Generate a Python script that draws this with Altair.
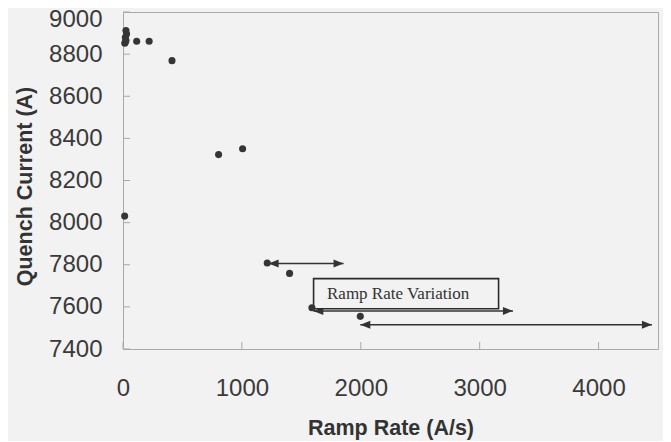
import altair as alt
import pandas as pd

# ---- data ----
ramp_rate = [25, 30, 20, 25, 15, 20, 115, 220, 412, 804, 1006, 14, 1213, 1401, 1589, 1996]
quench_current = [8912, 8895, 8880, 8865, 8852, 8858, 8861, 8861, 8769, 8323, 8351, 8031,
                  7808, 7759, 7596, 7555]

x_ticks = [0, 1000, 2000, 3000, 4000]
y_ticks = [7400, 7600, 7800, 8000, 8200, 8400, 8600, 8800, 9000]

arrow_start = [1225, 1601, 1996]
arrow_end = [1855, 3280, 4449]
arrow_level = [7806, 7581, 7515]

box_left = [1603]
box_right = [3159]
box_bottom = [7591]
box_top = [7734]
note_text = ["Ramp Rate Variation"]
note_x = [1716]
note_y = [7638]

BG = "#f2f2f2"
INK = "#333333"
FRAME = "#a9a9a9"
SANS = "Liberation Sans"

pts = pd.DataFrame({"ramp": ramp_rate, "q": quench_current})
xt = pd.DataFrame({"v": x_ticks})
yt = pd.DataFrame({"v": y_ticks})
arrows = pd.DataFrame({"x1": arrow_start, "x2": arrow_end, "y": arrow_level})
box = pd.DataFrame({"x1": box_left, "x2": box_right, "y1": box_bottom, "y2": box_top})
note = pd.DataFrame({"t": note_text, "x": note_x, "y": note_y})

xscale = alt.Scale(domain=[0, 4500], nice=False, zero=False)
yscale = alt.Scale(domain=[7400, 9000], nice=False, zero=False)

x_axis = alt.Axis(
    values=x_ticks, format="d", title="Ramp Rate (A/s)",
    ticks=False, domain=False, grid=False, labelFlush=False,
    labelFont=SANS, labelFontSize=24, labelColor="#3a3a3a", labelPadding=27,
    titleFont=SANS, titleFontSize=21.5, titleFontWeight="bold", titleColor=INK,
    titleY=79, titleBaseline="middle", titleAlign="center",
)
y_axis = alt.Axis(
    values=y_ticks, format="d", title="Quench Current (A)",
    ticks=False, domain=False, grid=False, labelFlush=False,
    labelFont=SANS, labelFontSize=24, labelColor="#3a3a3a", labelPadding=21,
    labelBaseline="middle",
    labelOffset={"condition": {"test": "datum.value == 9000", "value": 7}, "value": 0},
    titleFont=SANS, titleFontSize=21.5, titleFontWeight="bold", titleColor=INK,
    titleX=-98, titleY=174, titleAngle=270, titleBaseline="middle", titleAlign="center",
)


def X(field):
    return alt.X(field, scale=xscale, axis=x_axis, title="Ramp Rate (A/s)")


def Y(field):
    return alt.Y(field, scale=yscale, axis=y_axis, title="Quench Current (A)")


points = alt.Chart(pts).mark_circle(size=50, color="#353535", opacity=1).encode(
    x=X("ramp:Q"), y=Y("q:Q"),
)

ytick_marks = alt.Chart(yt).mark_rule(color=FRAME, strokeWidth=1).encode(
    y=Y("v:Q"), x=alt.value(0), x2=alt.value(7),
)
xtick_marks = alt.Chart(xt).mark_rule(color=FRAME, strokeWidth=1).encode(
    x=X("v:Q"), y=alt.value(337), y2=alt.value(330),
)

arrow_lines = alt.Chart(arrows).mark_rule(color=INK, strokeWidth=1.5).encode(
    x=X("x1:Q"), x2="x2:Q", y=Y("y:Q"),
)
head_left = alt.Chart(arrows).mark_point(
    shape="M 0 0 L 2 -0.8 L 2 0.8 Z", filled=True, size=100, color=INK, opacity=1
).encode(x=X("x1:Q"), y=Y("y:Q"))
head_right = alt.Chart(arrows).mark_point(
    shape="M 0 0 L -2 -0.8 L -2 0.8 Z", filled=True, size=100, color=INK, opacity=1
).encode(x=X("x2:Q"), y=Y("y:Q"))

note_box = alt.Chart(box).mark_rect(fill=BG, stroke="#2a2a2a", strokeWidth=1.6).encode(
    x=X("x1:Q"), x2="x2:Q", y=Y("y1:Q"), y2="y2:Q",
)
note_label = alt.Chart(note).mark_text(
    font="Liberation Serif", fontSize=17, color=INK, align="left", baseline="alphabetic"
).encode(x=X("x:Q"), y=Y("y:Q"), text="t:N")

chart = alt.layer(
    ytick_marks, xtick_marks, arrow_lines, head_left, head_right,
    note_box, note_label, points,
).properties(
    width=535, height=337,
    autosize=alt.AutoSizeParams(type="none"),
    padding={"left": 115, "top": 4, "right": 5, "bottom": 92},
    background=BG,
).configure_view(stroke=FRAME, strokeWidth=1)

chart.save("out.html", embed_options={"renderer": "svg", "actions": False})
